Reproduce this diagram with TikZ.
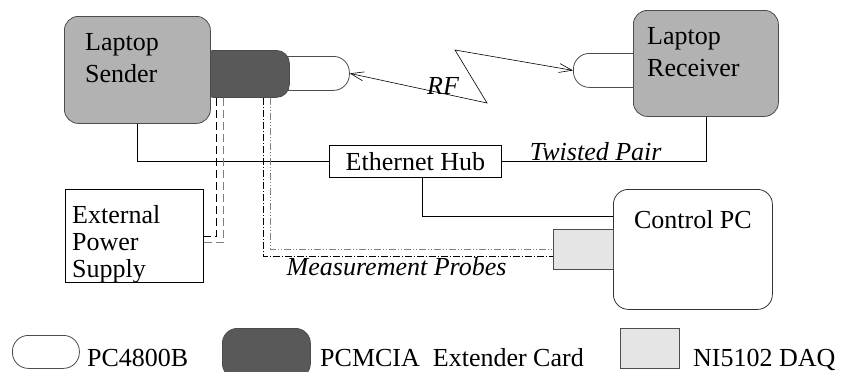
\documentclass[tikz,border=0pt]{standalone}
\usepackage{fontspec}
\setmainfont{Liberation Serif}
\usetikzlibrary{arrows.meta}

\begin{document}
\begin{tikzpicture}[x=1pt,y=-1pt,
  font=\fontsize{26}{32}\selectfont,
  laptop/.style={draw=black!70, fill=gray!60, rounded corners=14pt, line width=0.8pt, anchor=north west},
  pcmcia/.style={draw=black!70, fill=black!65, rounded corners=13pt, line width=0.8pt, anchor=north west},
  wlan/.style={draw=black!70, fill=white, rounded corners=16pt, line width=0.8pt, anchor=north west},
  daq/.style={draw=black!70, fill=gray!20, line width=0.8pt, anchor=north west},
  plainbox/.style={draw, line width=0.8pt, anchor=north west},
  pcbox/.style={draw=black!80, fill=white, rounded corners=15pt, line width=0.8pt, anchor=north west},
  boxtext/.style={anchor=north west, inner sep=0pt, align=left},
  wire/.style={line width=0.8pt},
  rf/.style={line width=0.6pt, {Straight Barb[length=13pt,width=9pt]}-{Straight Barb[length=13pt,width=9pt]}},
  powerA/.style={line width=0.7pt, dash pattern=on 8pt off 4pt},
  powerB/.style={line width=0.7pt, gray, dash pattern=on 8pt off 4pt},
  probeA/.style={line width=0.7pt, dash pattern=on 7pt off 2pt on 1pt off 2pt},
  probeB/.style={line width=0.7pt, gray, dash pattern=on 7pt off 2pt on 1pt off 2pt on 1pt off 2pt},
  legendtext/.style={anchor=base west, inner sep=0pt}]
\useasboundingbox (0,0) rectangle (841,372);
\clip (0,0) rectangle (841,372);
% sender side
\node[wlan, minimum width=79pt, minimum height=34pt] (pcs) at (270,56) {};
\node[pcmcia, minimum width=89pt, minimum height=47pt] (card) at (200,50) {};
\node[laptop, minimum width=146pt, minimum height=107pt,
  label={[boxtext, xshift=21pt, yshift=-17pt]north west:{Laptop\\Sender}}] (sender) at (64,16) {};
% receiver side
\node[wlan, minimum width=80pt, minimum height=34pt] (pcr) at (573,53) {};
\node[laptop, minimum width=145pt, minimum height=106pt,
  label={[boxtext, xshift=14pt, yshift=-17pt]north west:{Laptop\\Receiver}}] (receiver) at (633,10) {};
% radio link
\coordinate (rf1) at (487,103);
\coordinate (rf2) at (455,50);
\path[draw, rf] (pcs.east) -- (rf1) -- (rf2) -- (pcr.west);
\node[font=\fontsize{26}{32}\selectfont\itshape] (rflabel) at (443,86) {RF};
% network
\node[plainbox, minimum width=172pt, minimum height=32pt] (hub) at (329,145) {Ethernet Hub};
\node[pcbox, minimum width=159pt, minimum height=120pt,
  label={[anchor=north, inner sep=0pt, yshift=-21pt]north:{Control PC}}] (ctrl) at (613,189) {};
\node[daq, minimum width=60pt, minimum height=40pt] (daq) at (553,229) {};
\node[plainbox, minimum width=138pt, minimum height=93pt,
  label={[boxtext, xshift=7pt, yshift=-16pt, font=\fontsize{26}{27}\selectfont]north west:{External\\Power\\Supply}}] (power) at (65,189) {};
\path[draw, wire] (sender.south) |- (hub.west);
\path[draw, wire] (receiver.south) |- node[pos=0.77, above, inner sep=0.5pt, font=\fontsize{26}{32}\selectfont\itshape] {Twisted Pair} (hub.east);
\path[draw, wire] ([xshift=7pt]hub.south) |- ([yshift=-27pt]ctrl.north west);
% probes and power
\path[draw, probeA] ([xshift=18.5pt]card.south) |- node[pos=0.73, below, inner sep=1pt, font=\fontsize{26}{32}\selectfont\itshape] {Measurement Probes} ([yshift=-7pt]daq.west);
\path[draw, probeB] ([xshift=25.5pt]card.south) |- (daq.west);
\path[draw, powerA] ([xshift=-28.5pt]card.south) |- (power.east);
\path[draw, powerB] ([xshift=-21.5pt]card.south) |- ([yshift=-6pt]power.east);
% legend
\node[wlan, minimum width=67pt, minimum height=33pt] (lgwlan) at (12,335) {};
\node[legendtext] (lgwlantext) at (87,366) {PC4800B};
\node[pcmcia, rounded corners=15pt, minimum width=88pt, minimum height=50pt] (lgcard) at (222,328) {};
\node[legendtext] (lgcardtext) at (320,366) {PCMCIA\ \ Extender Card};
\node[daq, minimum width=59pt, minimum height=40pt] (lgdaq) at (620,328) {};
\node[legendtext] (lgdaqtext) at (693,366) {NI5102 DAQ};
\end{tikzpicture}
\end{document}
